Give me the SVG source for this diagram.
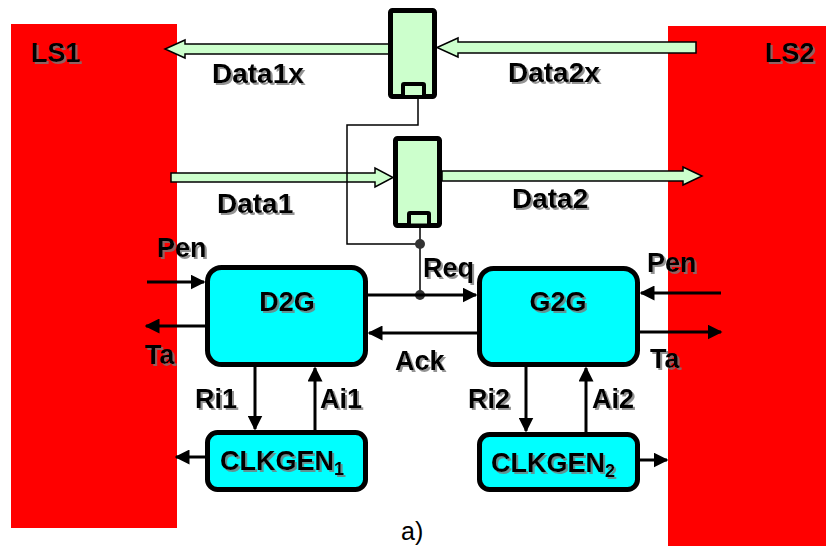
<svg xmlns="http://www.w3.org/2000/svg" width="826" height="546" viewBox="0 0 826 546">
<defs>
<style>
.lbl{font-family:"Liberation Sans",Arial,sans-serif;font-weight:bold;font-size:27px;fill:#000;filter:url(#sh)}
.big{font-size:28px}
.sub{font-size:18px}
.blk{fill:#ccffcc;stroke:#000;stroke-width:1.5;stroke-linejoin:miter}
.reg{fill:#ccffcc;stroke:#000;stroke-width:5}
.regi{fill:#ccffcc;stroke:#000;stroke-width:4}
.box{fill:#00ffff;stroke:#000;stroke-width:5}
.sig{fill:none;stroke:#000;stroke-width:3}
.wire{fill:none;stroke:#000;stroke-width:1.5}
</style>
<filter id="sh" x="-10%" y="-20%" width="130%" height="150%">
<feDropShadow dx="2" dy="2" stdDeviation="0.6" flood-color="#777" flood-opacity="0.8"/>
</filter>
<marker id="ah" viewBox="0 0 10 10" refX="9" refY="5" markerWidth="5" markerHeight="5" orient="auto" markerUnits="strokeWidth">
<path d="M0,0 L10,5 L0,10 z" fill="#000"/>
</marker>
</defs>
<rect width="826" height="546" fill="#fff"/>
<g id="LS1">
<rect x="11" y="24" width="166" height="504" fill="#ff0000"/>
<text class="lbl" x="31" y="62">LS1</text>
</g>
<g id="LS2">
<rect x="668" y="26" width="158" height="520" fill="#ff0000"/>
<text class="lbl" x="765" y="62">LS2</text>
</g>
<g id="connectors">
<polygon class="blk" points="696,42 458,42 458,38 437,47.5 458,57 458,53 696,53"/>
<polygon class="blk" points="390,44 185,44 185,40 165,49 185,58 185,54 390,54"/>
<polygon class="blk" points="171,173 375,173 375,168 393,177.5 375,187 375,182 171,182"/>
<polygon class="blk" points="442,171 683,171 683,167 702,176 683,185 683,181 442,181"/>
<polyline class="wire" points="418,99 418,125 347,125 347,244 420,244"/>
<line class="wire" x1="420" y1="228" x2="420" y2="295"/>
<circle cx="420" cy="244" r="5" fill="#333"/>
<circle cx="420" cy="295" r="5" fill="#333"/>
<line class="sig" x1="368" y1="295" x2="476" y2="295" marker-end="url(#ah)"/>
<line class="sig" x1="477" y1="333" x2="369" y2="333" marker-end="url(#ah)"/>
<line class="sig" x1="147" y1="282" x2="204" y2="282" marker-end="url(#ah)"/>
<line class="sig" x1="205" y1="326" x2="146" y2="326" marker-end="url(#ah)"/>
<line class="sig" x1="721" y1="293" x2="641" y2="293" marker-end="url(#ah)"/>
<line class="sig" x1="640" y1="332" x2="721" y2="332" marker-end="url(#ah)"/>
<line class="sig" x1="255" y1="367" x2="255" y2="429" marker-end="url(#ah)"/>
<line class="sig" x1="315" y1="430" x2="315" y2="368" marker-end="url(#ah)"/>
<line class="sig" x1="526" y1="367" x2="526" y2="431" marker-end="url(#ah)"/>
<line class="sig" x1="586" y1="432" x2="586" y2="368" marker-end="url(#ah)"/>
<line class="sig" x1="205" y1="457" x2="176" y2="457" marker-end="url(#ah)"/>
<line class="sig" x1="640" y1="460" x2="667" y2="460" marker-end="url(#ah)"/>
</g>
<g id="REG1">
<rect class="reg" x="390.5" y="10.5" width="44" height="86" rx="2"/>
<rect class="regi" x="403" y="84" width="21" height="13" rx="1"/>
</g>
<g id="REG2">
<rect class="reg" x="395.5" y="138.5" width="44" height="87" rx="2"/>
<rect class="regi" x="409" y="213" width="20" height="12.5" rx="1"/>
</g>
<g id="D2G">
<rect class="box" x="207.5" y="267.5" width="158" height="97" rx="14"/>
<text class="lbl" x="287" y="311" text-anchor="middle">D2G</text>
</g>
<g id="G2G">
<rect class="box" x="479.5" y="268.5" width="158" height="96" rx="14"/>
<text class="lbl" x="558" y="311" text-anchor="middle">G2G</text>
</g>
<g id="CLKGEN1">
<rect class="box" x="207.5" y="432.5" width="158" height="57" rx="10"/>
<text class="lbl" x="220" y="470">CLKGEN<tspan class="sub" dy="5">1</tspan></text>
</g>
<g id="CLKGEN2">
<rect class="box" x="479.5" y="434.5" width="158" height="55" rx="10"/>
<text class="lbl" x="491" y="472">CLKGEN<tspan class="sub" dy="5">2</tspan></text>
</g>
<g id="labels">
<text class="lbl big" x="212" y="83">Data1x</text>
<text class="lbl big" x="508" y="82">Data2x</text>
<text class="lbl big" x="217" y="213">Data1</text>
<text class="lbl big" x="512" y="208">Data2</text>
<text class="lbl" x="157" y="257">Pen</text>
<text class="lbl" x="145" y="364">Ta</text>
<text class="lbl" x="423" y="277">Req</text>
<text class="lbl" x="395" y="370">Ack</text>
<text class="lbl" x="647" y="272">Pen</text>
<text class="lbl" x="650" y="368">Ta</text>
<text class="lbl" x="195" y="408">Ri1</text>
<text class="lbl" x="320" y="408">Ai1</text>
<text class="lbl" x="468" y="408">Ri2</text>
<text class="lbl" x="592" y="408">Ai2</text>
<text x="401" y="540" font-family="Liberation Sans,Arial,sans-serif" font-size="25" fill="#000">a)</text>
</g>
</svg>
